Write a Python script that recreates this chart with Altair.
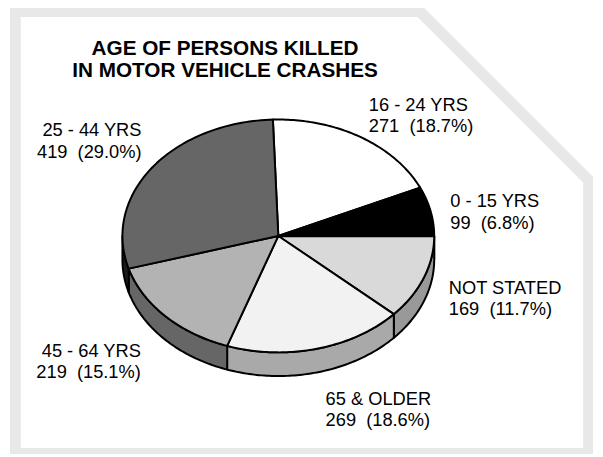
import altair as alt
import pandas as pd

# ---------------- data ----------------
categories = ["16 - 24 YRS", "0 - 15 YRS", "NOT STATED", "65 & OLDER", "45 - 64 YRS", "25 - 44 YRS"]
counts = [271, 99, 169, 269, 219, 419]
title_lines = ["AGE OF PERSONS KILLED", "IN MOTOR VEHICLE CRASHES"]

# ---------------- styles ----------------
top_colors = ["#ffffff", "#000000", "#d9d9d9", "#f2f2f2", "#b3b3b3", "#666666"]
side_colors = ["#cccccc", "#000000", "#999999", "#a9a9a9", "#666666", "#1c1c1c"]
FONT = "Liberation Sans"
FRAME_GRAY = "#e8e8e8"

# ---------------- layout ----------------
W, H = 595, 449
CX, CY, RX, RY = 274, 228, 158, 118      # ellipse of the pie top (px)
DEPTH = 24                               # pie thickness (px)
START = -0.0349                          # first slice starts 2 deg left of 12 o'clock
N = 72                                   # points per arc
K = 1.2                                  # label radius factor
label_nudge_x = [-8, -11, -4, 1, -2, 15]  # px
label_nudge_y = [-6, 1, 8, 34, 25, -18]   # px

D = DEPTH / RY
GAP = "\u00a0 "  # two visible spaces between count and percentage

df = pd.DataFrame({
    "cat": categories,
    "count": counts,
    "k": list(range(len(categories))),
    "top": top_colors,
    "side": side_colors,
    "ndx": label_nudge_x,
    "ndy": label_nudge_y,
})

xs = alt.Scale(domain=[-1, 1], range=[CX - RX, CX + RX], nice=False, zero=False)
ys = alt.Scale(domain=[-1, 1], range=[CY + RY, CY - RY], nice=False, zero=False)

base = (
    alt.Chart(df)
    .transform_joinaggregate(total="sum(count)")
    .transform_window(cum="sum(count)", sort=[alt.SortField("k")], frame=[None, 0])
    .transform_calculate(
        a0=f"{START} + 2*PI*(datum.cum - datum.count)/datum.total",
        a1=f"{START} + 2*PI*datum.cum/datum.total",
    )
)

# ---- pie side (visible lower half) ----
sides = (
    base.transform_calculate(s0="max(datum.a0, PI/2)", s1="min(datum.a1, 3*PI/2)")
    .transform_filter("datum.s1 > datum.s0")
    .transform_calculate(seq=f"sequence(0, {2 * N + 2})")
    .transform_flatten(["seq"], as_=["i"])
    .transform_calculate(
        j=f"datum.i <= {N} ? datum.i : {2 * N + 1} - datum.i",
    )
    .transform_calculate(
        ang=f"datum.s0 + (datum.s1 - datum.s0)*datum.j/{N}",
    )
    .transform_calculate(
        ux="sin(datum.ang)",
        uy=f"cos(datum.ang) - (datum.i > {N} ? {D} : 0)",
    )
    .mark_line(interpolate="linear-closed", stroke="black", strokeWidth=2, strokeJoin="round")
    .encode(
        x=alt.X("ux:Q", scale=xs, axis=None),
        y=alt.Y("uy:Q", scale=ys, axis=None),
        fill=alt.Fill("side:N", scale=None),
        detail="cat:N",
        order="i:Q",
    )
)

# ---- pie top faces ----
tops = (
    base.transform_calculate(seq=f"sequence(0, {N + 2})")
    .transform_flatten(["seq"], as_=["i"])
    .transform_calculate(ang=f"datum.a0 + (datum.a1 - datum.a0)*(datum.i - 1)/{N}")
    .transform_calculate(
        ux="datum.i == 0 ? 0 : sin(datum.ang)",
        uy="datum.i == 0 ? 0 : cos(datum.ang)",
    )
    .mark_line(interpolate="linear-closed", stroke="black", strokeWidth=2, strokeJoin="round")
    .encode(
        x=alt.X("ux:Q", scale=xs, axis=None),
        y=alt.Y("uy:Q", scale=ys, axis=None),
        fill=alt.Fill("top:N", scale=None),
        detail="cat:N",
        order="i:Q",
    )
)

# ---- labels ----
lab = base.transform_calculate(mid="(datum.a0 + datum.a1)/2").transform_calculate(
    lx=f"{K}*sin(datum.mid) + datum.ndx/{RX}",
    ly=f"{K}*cos(datum.mid) - datum.ndy/{RY}",
    txt="datum.cat + '\\n' + datum.count + '" + GAP + "(' + format(100*datum.count/datum.total, '.1f') + '%)'",
)
lab_enc = dict(
    x=alt.X("lx:Q", scale=xs, axis=None),
    y=alt.Y("ly:Q", scale=ys, axis=None),
    text="txt:N",
)
labels_right = lab.transform_filter("sin(datum.mid) > 0").mark_text(
    align="left", baseline="alphabetic", lineBreak="\n", lineHeight=21.5,
    font=FONT, fontSize=18.5, color="black",
).encode(**lab_enc)
labels_left = lab.transform_filter("sin(datum.mid) <= 0").mark_text(
    align="right", baseline="alphabetic", lineBreak="\n", lineHeight=21.5,
    font=FONT, fontSize=18.5, color="black",
).encode(**lab_enc)

# ---- title ----
title = alt.Chart(pd.DataFrame({"t": ["\n".join(title_lines)]})).mark_text(
    align="center", baseline="alphabetic", lineBreak="\n", lineHeight=22,
    font=FONT, fontSize=21, fontWeight="bold", color="black",
).encode(x=alt.value(220), y=alt.value(45), text="t:N")

# ---- decorative frame (px coordinates) ----
frame_df = pd.DataFrame({
    "part": ["outer"] * 5 + ["inner"] * 5,
    "idx": list(range(5)) * 2,
    "fx": [2, 419, 593, 593, 2, 13, 415, 583, 583, 13],
    "fy": [-6, -6, 168, 449, 449, 6, 6, 174, 443, 443],
    "col": [FRAME_GRAY] * 5 + ["#ffffff"] * 5,
})
frame = alt.Chart(frame_df).mark_line(interpolate="linear-closed", strokeWidth=0).encode(
    x=alt.X("fx:Q", scale=None, axis=None),
    y=alt.Y("fy:Q", scale=None, axis=None),
    fill=alt.Fill("col:N", scale=None),
    detail="part:N",
    order="idx:Q",
)

chart = (
    alt.layer(frame, sides, tops, labels_right, labels_left, title)
    .resolve_scale(x="independent", y="independent")
    .properties(width=W, height=H, autosize=alt.AutoSizeParams(type="none"), padding=0, background="white")
    .configure_view(strokeWidth=0)
)

chart.save("out.html", embed_options={"renderer": "svg", "actions": False})
